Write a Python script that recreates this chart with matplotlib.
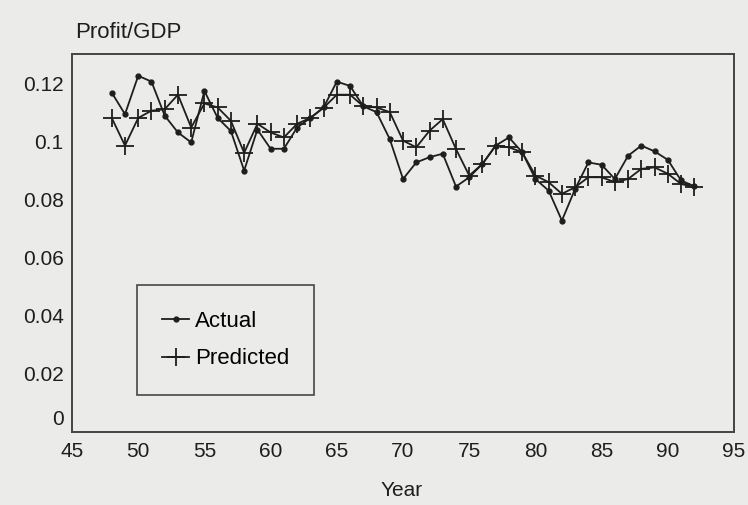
import matplotlib.pyplot as plt
import matplotlib.transforms as mtransforms
import numpy as np

plt.rcParams['font.family'] = ['Liberation Sans', 'DejaVu Sans']

years = list(range(48, 93))
actual = [0.1167, 0.1093, 0.1225, 0.1205, 0.1088, 0.1030, 0.0996, 0.1173, 0.1080,
          0.1035, 0.0899, 0.1040, 0.0974, 0.0974, 0.1047, 0.1080, 0.1116, 0.1205,
          0.1190, 0.1120, 0.1100, 0.1007, 0.0870, 0.0927, 0.0945, 0.0957, 0.0844,
          0.0876, 0.0922, 0.0985, 0.1013, 0.0962, 0.0870, 0.0830, 0.0727, 0.0836,
          0.0927, 0.0919, 0.0870, 0.0950, 0.0985, 0.0965, 0.0936, 0.0865, 0.0845]
predicted = [0.1080, 0.0985, 0.1080, 0.1105, 0.1110, 0.1160, 0.1047, 0.1130, 0.1116,
             0.1070, 0.0960, 0.1060, 0.1030, 0.1013, 0.1060, 0.1080, 0.1115, 0.1160,
             0.1160, 0.1120, 0.1116, 0.1100, 0.1002, 0.0979, 0.1036, 0.1076, 0.0973,
             0.0882, 0.0922, 0.0985, 0.0979, 0.0962, 0.0882, 0.0859, 0.0819, 0.0842,
             0.0876, 0.0876, 0.0859, 0.0870, 0.0905, 0.0910, 0.0888, 0.0853, 0.0842]
ytick_vals = [0, 0.02, 0.04, 0.06, 0.08, 0.1, 0.12]
ytick_labels = ['0', '0.02', '0.04', '0.06', '0.08', '0.1', '0.12']

bg = '#ebebea'
ink = '#1e1e1e'
fig = plt.figure(figsize=(7.48, 5.05), dpi=100, facecolor=bg)
ax = fig.add_axes([0.0963, 0.1446, 0.885, 0.7485], facecolor=bg)

ax.plot(years, actual, '-o', color=ink, lw=1.3, ms=3.5, label='Actual')
ax.plot(years, predicted, '-+', color=ink, lw=1.3, ms=13, mew=1.3, label='Predicted')

ax.set_xlim(45, 95)
ax.set_ylim(0, 0.13)
ax.set_xticks(np.arange(45, 96, 5))
ax.set_yticks(ytick_vals)
ax.set_yticklabels(ytick_labels)
ax.tick_params(length=0, labelsize=15, colors=ink)
ax.tick_params(axis='x', pad=7)
ax.tick_params(axis='y', pad=6)
# the zero label sits a bit above the axis, as in the scan
lab0 = ax.get_yticklabels()[0]
lab0.set_transform(lab0.get_transform() +
                   mtransforms.ScaledTranslation(0, 14 / 100, fig.dpi_scale_trans))
for s in ax.spines.values():
    s.set_color('#444444')
    s.set_linewidth(1.4)

fig.text(0.537, 1 - 490 / 505, 'Year', fontsize=15, color=ink, ha='center', va='center')
fig.text(0.1, 1 - 32 / 505, 'Profit/GDP', fontsize=16, color=ink, va='center')

leg = ax.legend(loc='lower left', bbox_to_anchor=(0.098, 0.098), fontsize=16,
                frameon=True, fancybox=False, handlelength=1.2, handletextpad=0.25,
                borderpad=1.15, labelspacing=0.75, facecolor=bg, edgecolor=ink,
                borderaxespad=0)
leg.get_frame().set_linewidth(1.2)

plt.savefig('out.png', dpi=100, facecolor=bg)
